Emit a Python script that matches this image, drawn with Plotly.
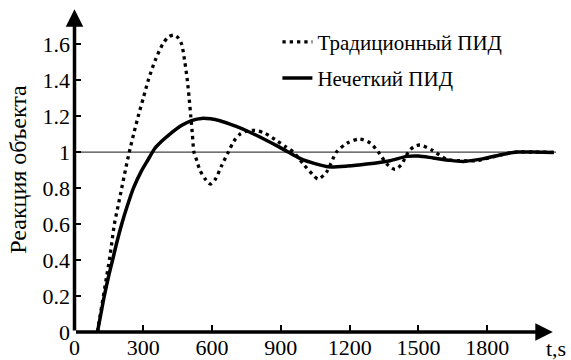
import plotly.graph_objects as go

# Traditional PID (dotted)
t_trad = [100, 113, 126, 139, 152, 163, 174, 190, 206, 222, 239, 258, 278, 300, 322, 352, 385, 410, 435,
          452, 467, 480, 492, 500, 507, 514, 521, 534, 547, 570, 592, 615, 640, 671, 695, 722, 755, 787,
          830, 882, 920, 954, 1000, 1041, 1063, 1100, 1143, 1190, 1242, 1290, 1325, 1365, 1398, 1425,
          1456, 1480, 1507, 1560, 1623, 1681, 1750, 1820, 1880, 1929, 2000, 2090]
y_trad = [0.0, 0.10, 0.20, 0.30, 0.40, 0.50, 0.60, 0.70, 0.80, 0.90, 1.00, 1.10, 1.20, 1.30, 1.40, 1.51, 1.60, 1.64, 1.65,
          1.635, 1.60, 1.51, 1.40, 1.30, 1.20, 1.10, 1.00, 0.95, 0.90, 0.85, 0.822, 0.85, 0.92, 1.00, 1.06, 1.10, 1.118, 1.12,
          1.105, 1.063, 1.03, 1.00, 0.93, 0.872, 0.85, 0.89, 1.00, 1.05, 1.072, 1.05, 1.00, 0.93, 0.904, 0.93,
          1.00, 1.03, 1.039, 1.01, 0.96, 0.952, 0.952, 0.972, 0.99, 1.0, 1.0, 0.998]

# Fuzzy PID (solid)
t_fuzzy = [100, 115, 130, 147, 166, 185, 206, 230, 257, 290, 322, 350, 380, 416, 470, 510, 555, 634, 700,
           765, 830, 890, 932, 983, 1056, 1107, 1190, 1274, 1376, 1449, 1500, 1564, 1630, 1696, 1780, 1860,
           1929, 2000, 2090]
y_fuzzy = [0.0, 0.10, 0.20, 0.30, 0.40, 0.50, 0.60, 0.70, 0.80, 0.89, 0.96, 1.02, 1.06, 1.10, 1.15, 1.175, 1.187, 1.174, 1.145,
           1.11, 1.07, 1.03, 1.00, 0.965, 0.933, 0.918, 0.922, 0.933, 0.952, 0.976, 0.978, 0.967, 0.955, 0.948, 0.962, 0.985,
           1.0, 1.0, 0.998]

x_ticks = [0, 300, 600, 900, 1200, 1500, 1800]
y_ticks = [0, 0.2, 0.4, 0.6, 0.8, 1.0, 1.2, 1.4, 1.6]
y_ticktext = ["0", "0.2", "0.4", "0.6", "0.8", "1", "1.2", "1.4", "1.6"]

FONT = "Liberation Serif"

fig = go.Figure()
fig.add_trace(go.Scatter(x=t_trad, y=y_trad, mode="lines", name="Традиционный ПИД", legendgroup="a",
                         line=dict(color="black", width=3.3, dash="3.3px,4px", shape="spline", smoothing=0.8)))
fig.add_trace(go.Scatter(x=t_fuzzy, y=y_fuzzy, mode="lines", name="Нечеткий ПИД", legendgroup="b",
                         line=dict(color="black", width=3.5, shape="spline", smoothing=0.8)))

# reference line y = 1
fig.add_shape(type="line", xref="paper", yref="y", x0=0, x1=1, y0=1, y1=1,
              line=dict(color="#444444", width=1.3), layer="below")

# axes with arrows
fig.add_annotation(x=2086, y=0, ax=0, ay=0, xref="x", yref="y", axref="x", ayref="y",
                   text="", showarrow=True, arrowhead=2, arrowsize=1, arrowwidth=3.5, arrowcolor="black")
fig.add_annotation(x=0, y=1.794, ax=0, ay=0, xref="x", yref="y", axref="x", ayref="y",
                   text="", showarrow=True, arrowhead=2, arrowsize=1, arrowwidth=3.5, arrowcolor="black")
fig.add_annotation(x=1, y=0, xref="paper", yref="paper", xanchor="left", yanchor="top",
                   xshift=-12, yshift=-2, text="t,s", showarrow=False,
                   font=dict(family=FONT, size=22, color="black"))

fig.update_layout(
    width=571, height=360,
    margin=dict(l=74, r=15, t=7, b=28, autoexpand=False),
    paper_bgcolor="white", plot_bgcolor="white",
    showlegend=True,
    legend=dict(x=0.422, y=0.955, xanchor="left", yanchor="top", bgcolor="rgba(0,0,0,0)",
                font=dict(family=FONT, size=21, color="black"), itemwidth=30, tracegroupgap=6),
    font=dict(family=FONT, size=23, color="black"),
)
fig.update_xaxes(range=[-2.2, 2100], tickvals=x_ticks, ticks="inside", ticklen=7, tickwidth=1.5,
                 tickcolor="black", showgrid=False, zeroline=False, showline=False, ticklabelstandoff=0,
                 automargin=False, tickfont=dict(family=FONT, size=22, color="black"))
fig.update_yaxes(range=[0, 1.806], tickvals=y_ticks, ticktext=y_ticktext, ticks="inside", ticklen=7,
                 tickwidth=1.5, tickcolor="black", showgrid=False, zeroline=False, showline=False,
                 automargin=False, ticklabelstandoff=3, tickfont=dict(family=FONT, size=22, color="black"),
                 title=dict(text="Реакция объекта", font=dict(family=FONT, size=24, color="black"), standoff=9))

fig.write_html("out.html")
